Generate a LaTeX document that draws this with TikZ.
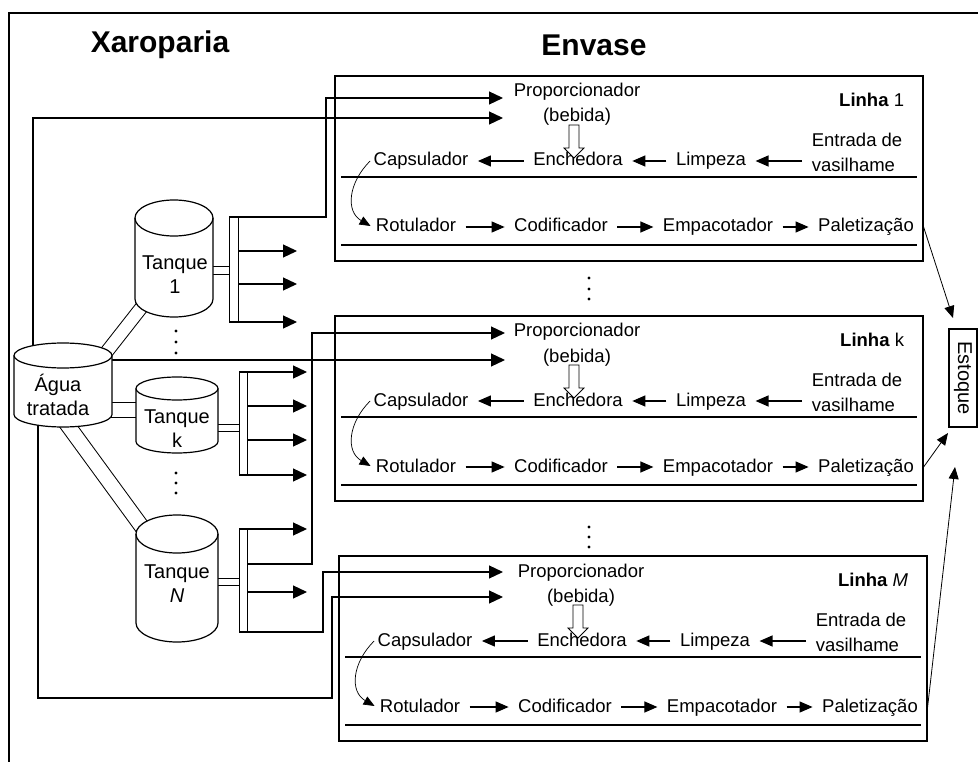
\documentclass[tikz,border=0pt]{standalone}
\usepackage{fontspec}
\setmainfont{Liberation Sans}
\usetikzlibrary{arrows.meta}

% tanque: centro x, topo, base, raio x, raio y
\newcommand{\tanque}[5]{%
  \filldraw[fill=white] (#1-#4,#2-#5) -- (#1-#4,#3+#5)
    arc[start angle=180, end angle=360, x radius=#4pt, y radius=#5pt]
    -- (#1+#4,#2-#5)
    arc[start angle=0, end angle=180, x radius=#4pt, y radius=#5pt] -- cycle;
  \draw (#1+#4,#2-#5) arc[start angle=0, end angle=-180, x radius=#4pt, y radius=#5pt];
}

\tikzset{
  flow/.style={-{Triangle[length=14pt,width=13pt]}},
  pequ/.style={-{Triangle[length=13pt,width=11pt]}, shorten >=6pt, shorten <=6pt},
  curva/.style={-{Triangle[length=11pt,width=9pt]}, line width=0.7pt},
  saida/.style={-{Triangle[length=12pt,width=10pt]}, line width=0.8pt},
  cano/.style={double, line width=1pt},
  etapa/.style={inner sep=3pt, text height=14pt, text depth=4pt, font=\fontsize{18.5}{25}\selectfont},
  tanq/.style={align=center, font=\fontsize{20}{24}\selectfont},
  titulo/.style={font=\fontsize{30}{34}\selectfont\bfseries},
}

\begin{document}
\begin{tikzpicture}[x=1pt, y=1pt, line width=1.2pt]
    \useasboundingbox (0,0) rectangle (978,-762);

    % moldura
    \draw (9,-762) -- (9,-13) -- (978,-13);

    \node[titulo] (xar) at (160,-45) {Xaroparia};
    \node[titulo] (env) at (594,-45) {Envase};

    % pontos de ligacao
    \coordinate (in1a) at (503,-98);
    \coordinate (in1b) at (503,-118);
    \coordinate (inka) at (505,-333);
    \coordinate (inkb) at (505,-360);
    \coordinate (inMa) at (503,-572);
    \coordinate (inMb) at (503,-597);
    \coordinate (agN) at (33,-348);
    \coordinate (agE) at (112,-360);
    \coordinate (agS) at (38,-422);
    \coordinate (b1t) at (234,-217);
    \coordinate (b1b) at (234,-322);
    \coordinate (bkt) at (243.5,-372);
    \coordinate (bkb) at (243.5,-475);
    \coordinate (bNt) at (243.5,-529);
    \coordinate (bNb) at (243.5,-632);
    \coordinate (b1nw) at (229,-217);
    \coordinate (bNm) at (248,-564);
    \coordinate (bNs) at (239,-632);

    % canos
    \draw[cano, double distance=12pt] (94,-368) -- (152,-294);
    \draw[cano, double distance=14pt] (100,-409.5) -- (150,-409.5);
    \draw[cano, double distance=14pt] (61,-416) -- (153,-542);
    \draw[cano, double distance=7pt] (200,-271) -- (229,-271);
    \draw[cano, double distance=6pt] (205,-427.5) -- (239,-427.5);
    \draw[cano, double distance=6pt] (205,-581.5) -- (239,-581.5);
    \draw[cano, double distance=8.8pt] (b1t) -- (b1b);
    \draw[cano, double distance=7.8pt] (bkt) -- (bkb);
    \draw[cano, double distance=7.8pt] (bNt) -- (bNb);

    % saidas dos tanques
    \foreach \x/\y/\e [count=\i] in {239/251/297, 239/284/297, 229/322/297,
        239/372/307, 248/406/307, 248/440/307, 239/475/307, 239/529/307, 248/592/307} {
      \coordinate (o\i) at (\x,-\y);
      \coordinate (e\i) at (\e,-\y);
      \draw[flow] (o\i) -- (e\i);
    }
    \draw[flow] (b1nw) -- ++(97,0) |- (in1a);
    \draw[flow] (bNm) -- ++(64,0) |- (inka);
    \draw[flow] (bNs) -- ++(84,0) |- (inMa);
    \draw[flow] (agN) |- (in1b);
    \draw[flow] (agE) -- (inkb);
    \draw[flow] (agS) |- ++(294,-276) |- (inMb);

    % tanques
    \tanque{63}{-343}{-427}{49}{12.5}
    \tanque{174}{-200}{-317}{39}{18}
    \tanque{177}{-377}{-453}{41}{11.5}
    \tanque{177}{-515}{-642}{41}{19}
    \node[tanq] (ag) at (58,-395) {Água\\tratada};
    \node[tanq] (t1) at (175,-275) {Tanque\\1};
    \node[tanq] (tk) at (177,-428.5) {Tanque\\k};
    \node[tanq] (tn) at (177,-584) {Tanque\\\textit{N}};

    \foreach \x/\y in {176/331, 176/342, 176/353, 176/473, 176/483, 176/493,
        589/278, 589/289, 589/299, 589/527, 589/537, 589/547}
      \fill (\x,-\y) circle (1.7pt);

    % linhas de envase
    \foreach \dx/\dy/\nm/\lab in {0/0/1/1, 0/240/k/k, 4/480/M/{\textit{M}}} {
      \begin{scope}[shift={(\dx,-\dy)}]
        \node[draw, minimum width=588pt, minimum height=185pt, inner sep=0] (box\nm) at (629,-168.5) {};
        \draw (341,-177) -- (917,-177);
        \draw (341,-245) -- (917,-245);
        \node[anchor=east, font=\fontsize{18.5}{22}\selectfont] (lin\nm) at (908,-100) {\textbf{Linha} \lab};
        \node[etapa] (prop\nm) at (577,-92) {Proporcionador};
        \node[etapa] (beb\nm) at (577,-117) {(bebida)};
        \node[etapa] (caps\nm) at (421,-161) {Capsulador};
        \node[etapa] (ench\nm) at (578,-161) {Enchedora};
        \node[etapa] (limp\nm) at (711,-161) {Limpeza};
        \node[align=left, inner sep=3pt, font=\fontsize{18.5}{25}\selectfont] (ent\nm) at (857,-152) {Entrada de\\vasilhame};
        \node[etapa] (rot\nm) at (416,-227) {Rotulador};
        \node[etapa] (cod\nm) at (561,-227) {Codificador};
        \node[etapa] (emp\nm) at (718,-227) {Empacotador};
        \node[etapa] (pal\nm) at (866,-227) {Paletização};
        \draw[line width=0.8pt, fill=white] (569,-125) -- (579,-125) -- (579,-148) -- (584,-148)
          -- (574,-158) -- (564,-148) -- (569,-148) -- cycle;
        \draw[pequ] (ench\nm) -- (caps\nm);
        \draw[pequ] (limp\nm) -- (ench\nm);
        \draw[pequ] (ent\nm.west |- limp\nm) -- (limp\nm);
        \draw[pequ] (rot\nm) -- (cod\nm);
        \draw[pequ] (cod\nm) -- (emp\nm);
        \draw[pequ] (emp\nm) -- (pal\nm);
        \draw[curva, shorten >=2pt] (caps\nm.west) to[out=225, in=150, looseness=1.2] (rot\nm.west);
      \end{scope}
    }

    % estoque
    \node[draw, rotate=-90, minimum width=98pt, minimum height=28pt, inner sep=0,
      font=\fontsize{20}{24}\selectfont] (est) at (963,-378) {Estoque};
    \coordinate (st1) at (953,-318);
    \coordinate (stk) at (948,-433);
    \coordinate (stM) at (955,-467);
    \draw[saida] (box1.east |- pal1) -- (st1);
    \draw[saida] (boxk.east |- palk) -- (stk);
    \draw[saida] (boxM.east |- palM) -- (stM);
\end{tikzpicture}
\end{document}
